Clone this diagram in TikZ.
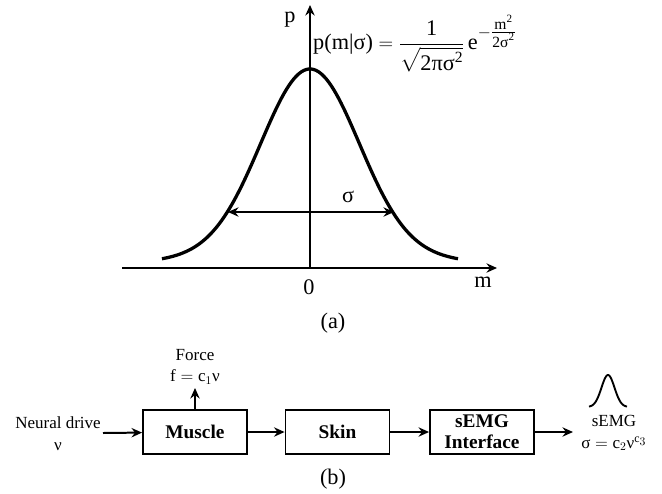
\documentclass[tikz,border=0pt]{standalone}
\usepackage{amsmath}
\usepackage{fontspec}
\setmainfont{Liberation Serif}
\usetikzlibrary{positioning,arrows.meta}

\tikzset{
  arr/.style={-{Stealth[length=9pt,width=8pt,inset=3pt]},line width=1.7pt},
  blk/.style={draw,line width=1.6pt,minimum width=3.12cm,minimum height=1.32cm,
    align=center,font=\fontsize{16.5}{18}\selectfont\bfseries},
  txt/.style={align=center,font=\fontsize{14.5}{18.5}\selectfont},
  lbl/.style={font=\fontsize{19}{22}\selectfont},
}

\begin{document}
\begin{tikzpicture}[x=0.03cm,y=-0.03cm]
	\useasboundingbox (0,0) rectangle (662,493);
	% (a) the distribution
	\draw[arr,line width=2.3pt] (122,268) -- (497,268);
	\draw[arr,line width=2.3pt] (310,268) -- (310,5);
	\draw[line width=2.8pt] plot[domain=-1.48:1.48,samples=120] ({310+100*\x},{268-185*exp(-(\x)^2/0.4802)-14*exp(-(\x)^2/3.38)});
	\draw[{Stealth[length=9pt,width=8pt,inset=3pt]}-{Stealth[length=9pt,width=8pt,inset=3pt]},line width=1.8pt] (228,212) -- (394,212);

	\node[lbl] (p) at (290,20) {p};
	\node[lbl] (m) at (483,282) {m};
	\node[lbl] (zero) at (309,287) {0};
	\node[lbl] (sig) at (348,197) {σ};
	\node[lbl,anchor=west,inner sep=0pt] (pdf) at (313,44) {\fontsize{19}{21}\selectfont$\text{p(m|σ)} = \dfrac{\text{1}}{\sqrt{\text{2πσ}^{\text{2}}}}\,\text{e}^{-\genfrac{}{}{}{1}{\text{m}^{\text{2}}}{\text{2σ}^{\text{2}}}}$};
	\node[lbl] (capa) at (333,323) {(a)};

	% (b) the chain
	\node[blk] (muscle) at (195,432) {Muscle};
	\node[blk] (skin) at (337.5,432) {Skin};
	\node[blk] (iface) at (482,432) {sEMG\\Interface};
	\node[txt] (drive) at (58,434) {Neural drive\\ν};
	\node[txt,anchor=south,inner sep=3pt] (force) at (195,388) {Force\\$\text{f} = \text{c}_1\text{ν}$};
	\node[txt] (emg) at (614,433) {sEMG\\$\text{σ} = \text{c}_2\text{ν}^{\text{c}_{\scriptstyle 3}}$};
	\coordinate (in) at (103,433);
	\coordinate (out) at (573,432);

	\draw[arr] (in) -- (muscle);
	\draw[arr] (muscle) -- (skin);
	\draw[arr] (skin) -- (iface);
	\draw[arr] (iface) -- (out);
	\draw[arr] (muscle.north) -- (force.south);
	\draw[line width=1.6pt] plot[domain=-19:19,samples=50] ({608+\x},{407-32*exp(-(\x)^2/84.5)});

	\node[lbl] (capb) at (333,479) {(b)};
\end{tikzpicture}
\end{document}
